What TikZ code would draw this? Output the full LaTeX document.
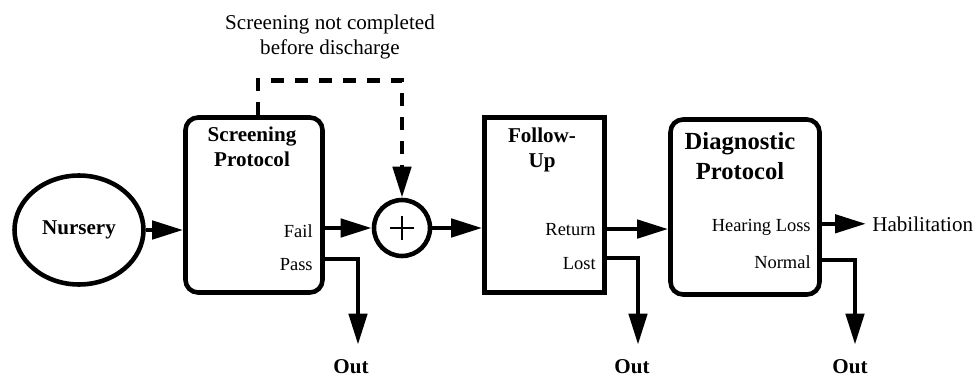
\documentclass[tikz,border=0pt]{standalone}
\usepackage{fontspec}
\setmainfont{Liberation Serif}
\usetikzlibrary{shapes.geometric,arrows.meta}
\begin{document}
\begin{tikzpicture}[x=0.02cm, y=-0.02cm]
                \tikzset{stage/.style={draw, line width=2.6pt, minimum height=3.5cm}}
                \tikzset{flow/.style={line width=2.6pt, -{Triangle[length=0.62cm, width=0.36cm]}}}
                \tikzset{dashflow/.style={flow, dash pattern=on 0.26cm off 0.22cm}}
                \tikzset{txt/.style={font=\fontsize{12}{14}\selectfont, inner sep=0pt}}
                \tikzset{port/.style={font=\fontsize{10.5}{12}\selectfont, inner sep=0pt, anchor=base east}}
                \tikzset{head/.style={font=\fontsize{12}{14}\selectfont\bfseries, align=center, inner sep=0pt}}
                \tikzset{outlbl/.style={font=\fontsize{12}{14}\selectfont\bfseries, inner xsep=0pt, inner ysep=0.28cm, anchor=base}}
                \useasboundingbox (0,0) rectangle (979,375);
                \node[ellipse, draw, line width=2.6pt, minimum width=2.58cm, minimum height=2.18cm,
                    font=\fontsize{12}{14}\selectfont\bfseries] (nursery) at (79,230) {Nursery};
                \node[stage, rounded corners=0.25cm, minimum width=2.74cm] (screen) at (254,205) {};
                \node[stage, minimum width=2.4cm] (follow) at (544.5,205) {};
                \node[stage, rounded corners=0.25cm, minimum width=2.98cm] (diag) at (745,207) {};
                \node[circle, draw, line width=2.6pt, minimum size=1.12cm] (sum) at (402,228) {};
                \draw[line width=1pt] ([xshift=-0.24cm]sum.center) -- ([xshift=0.24cm]sum.center);
                \draw[line width=1pt] ([yshift=-0.24cm]sum.center) -- ([yshift=0.24cm]sum.center);
                \node[head, anchor=north] (screentitle) at (252,127) {Screening\\Protocol};
                \node[head, anchor=north] (followtitle) at (542,128) {Follow-\\Up};
                \node[head, anchor=north, font=\fontsize{14}{17}\selectfont\bfseries] (diagtitle) at (740,132) {Diagnostic\\Protocol};
                \node[txt, align=center, anchor=north] (note) at (330,15) {Screening not completed\\before discharge};
                \node[port] (fail) at (313,237) {Fail};
                \node[port] (pass) at (313,270) {Pass};
                \node[port] (return) at (596,235) {Return};
                \node[port] (lost) at (596,269) {Lost};
                \node[port] (hear) at (811,231) {Hearing Loss};
                \node[port] (normal) at (811,268) {Normal};
                \node[txt, inner sep=0.12cm, anchor=base west] (habil) at (866,231) {Habilitation};
                \node[outlbl] (out1) at (351,373) {Out};
                \node[outlbl] (out2) at (632,373) {Out};
                \node[outlbl] (out3) at (850,373) {Out};
                \draw[flow] (nursery) -- (screen.west |- nursery);
                \draw[flow] (sum.west -| screen.east) -- (sum.west);
                \draw[flow] (sum) -- (sum -| follow.west);
                \draw[flow] (return.east -| follow.east) -- (return.east -| diag.west);
                \draw[flow] (habil.west -| diag.east) -- (habil.west);
                \draw[flow] ([yshift=0.22cm]pass.base -| screen.east) -| ([xshift=0.14cm]out1.north);
                \draw[flow] ([yshift=0.22cm]lost.base -| follow.east) -| ([xshift=0.12cm]out2.north);
                \draw[flow] ([yshift=0.16cm]normal.base -| diag.east) -| ([xshift=0.1cm]out3.north);
                \draw[dashflow] ([xshift=0.08cm]screen.north) -- ++(0,-35) -| (sum);
            \end{tikzpicture}
\end{document}
